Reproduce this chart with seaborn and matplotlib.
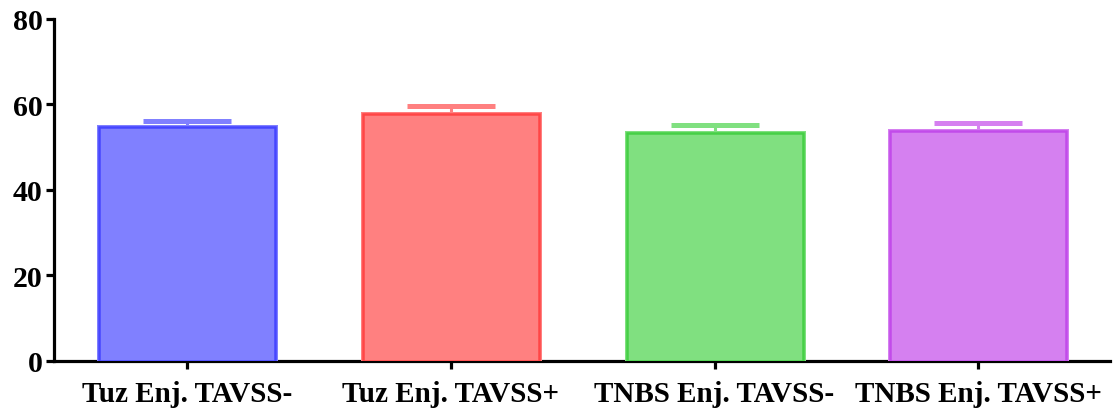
import numpy as np
import pandas as pd
import matplotlib
matplotlib.use("Agg")
import matplotlib.pyplot as plt
import matplotlib.patheffects as pe
import seaborn as sns

# Group labels, means and standard errors
groups = ["Tuz Enj. TAVSS-", "Tuz Enj. TAVSS+", "TNBS Enj. TAVSS-", "TNBS Enj. TAVSS+"]
means = [54.6, 57.7, 53.4, 53.8]
sems = [1.5, 1.9, 1.8, 1.9]

fill_colors = ["#8080FF", "#FF8080", "#80E080", "#D580F0"]
edge_colors = ["#4646FF", "#FF4646", "#46D046", "#C24BEA"]

sns.set_theme(style="ticks")
plt.rcParams["font.family"] = ["Liberation Serif", "DejaVu Serif"]
plt.rcParams["font.weight"] = "bold"

df = pd.DataFrame({"group": groups, "value": means})

fig = plt.figure(figsize=(11.16, 4.14), dpi=100)
ax = fig.add_axes([0.048, 0.126, 0.947, 0.826])

bar_width = 0.667
sns.barplot(data=df, x="group", y="value", hue="group", palette=fill_colors,
            order=groups, hue_order=groups, errorbar=None, width=bar_width,
            saturation=1, legend=False, ax=ax, zorder=3)

for patch, fc, ec in zip(ax.patches, fill_colors, edge_colors):
    patch.set_edgecolor(ec)
    patch.set_linewidth(1.8)
    patch.set_path_effects([pe.Stroke(linewidth=3.6, foreground=fc), pe.Normal()])

# Upper-only error bars (mean + SEM), cap half as wide as the bar
cap_half = bar_width / 4
for i, (m, s, c) in enumerate(zip(means, sems, fill_colors)):
    ax.vlines(i, m, m + s, colors=c, linewidth=2.2, zorder=2)
    ax.hlines(m + s, i - cap_half, i + cap_half, colors=c, linewidth=3.6, zorder=2)

ax.set_ylim(0, 80)
ax.set_xlim(-0.505, 3.5)
ax.set_yticks([0, 20, 40, 60, 80])
ax.set_xlabel("")
ax.set_ylabel("")

for side in ["top", "right"]:
    ax.spines[side].set_visible(False)
for side in ["left", "bottom"]:
    ax.spines[side].set_linewidth(2.3)
    ax.spines[side].set_color("black")

ax.tick_params(axis="y", length=6, width=2.3, labelsize=21.5, pad=2, colors="black")
ax.tick_params(axis="x", length=5.5, width=2.3, labelsize=21, pad=8, colors="black")
for lab in ax.get_xticklabels() + ax.get_yticklabels():
    lab.set_fontweight("bold")

fig.savefig("out.png", dpi=100)
